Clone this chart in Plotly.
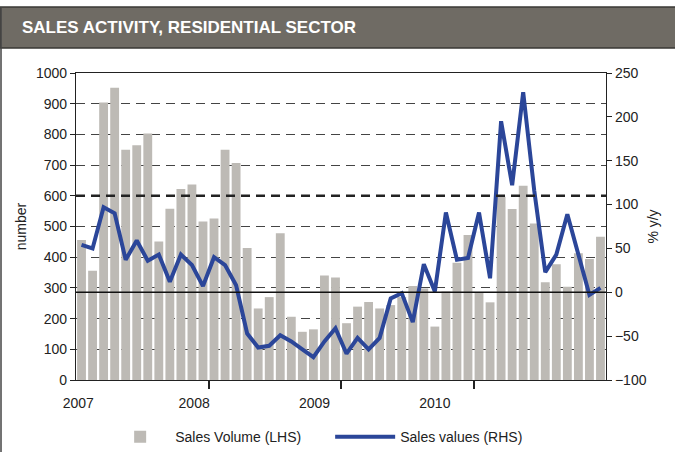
import plotly.graph_objects as go

# ---- data ----
months = list(range(48))  # Jan 2007 .. Dec 2010
sales_volume = [456, 356, 904, 952, 750, 765, 803, 451, 558, 622, 637, 516,
                526, 750, 707, 430, 233, 270, 478, 206, 157, 165, 340, 334,
                185, 239, 254, 233, 244, 270, 306, 298, 174, 288, 382, 472,
                287, 253, 597, 557, 633, 510, 318, 377, 304, 413, 394, 467]
sales_values = [54, 50, 97, 90, 37, 59, 36, 43, 12, 43, 31, 7,
                40, 31, 8, -47, -63, -61, -49, -56, -65, -74, -56, -41,
                -70, -52, -65, -52, -7, -1, -34, 32, 1, 91, 37, 39,
                91, 16, 195, 122, 228, 116, 23, 43, 89, 43, -3, 5]
year_labels = ["2007", "2008", "2009", "2010"]
year_label_pos = [-0.3, 10.2, 21.1, 32.0]
year_bounds = [11.5, 23.5, 35.5]
left_ticks = [0, 100, 200, 300, 400, 500, 600, 700, 800, 900, 1000]
right_ticks = [-100, -50, 0, 50, 100, 150, 200, 250]

FONT = "Liberation Sans, Arial, sans-serif"
TXT = "#222222"

fig = go.Figure()
fig.add_trace(go.Bar(x=months, y=sales_volume, name="Sales Volume (LHS)",
                     marker=dict(color="#bdbab5", line=dict(width=0)),
                     yaxis="y"))
fig.add_trace(go.Scatter(x=months, y=sales_values, name="Sales values (RHS)",
                         mode="lines", line=dict(color="#2b4699", width=4),
                         yaxis="y2"))

fig.update_layout(
    width=675, height=452,
    margin=dict(l=76, r=69, t=73, b=72, autoexpand=False),
    paper_bgcolor="white", plot_bgcolor="white",
    font=dict(family=FONT, size=14, color=TXT),
    bargap=0.2,
    showlegend=True,
    legend=dict(orientation="h", x=0.055, xanchor="left", y=-0.186, yanchor="middle",
                font=dict(size=14, color=TXT), itemwidth=60,
                entrywidth=150, entrywidthmode="pixels", traceorder="normal"),
    xaxis=dict(range=[-0.5, 47.5], tickmode="array", tickvals=year_label_pos,
               ticktext=year_labels, ticks="", showgrid=False, zeroline=False,
               showline=True, linecolor="#222", linewidth=1.3, mirror=True,
               tickfont=dict(size=14), ticklabelstandoff=10,
               minor=dict(tickmode="array", tickvals=year_bounds, ticks="outside",
                          ticklen=8, tickcolor="#222", tickwidth=1.5, showgrid=False)),
    yaxis=dict(range=[0, 1000], tickmode="array", tickvals=left_ticks,
               ticks="outside", ticklen=5, tickcolor="#222",
               showline=True, linecolor="#222", linewidth=1.3,
               showgrid=True, gridcolor="#444", gridwidth=1.2, griddash="9px,6px",
               zeroline=False, layer="above traces",
               title=dict(text="number", standoff=5, font=dict(size=14)),
               tickfont=dict(size=14)),
    yaxis2=dict(range=[-100, 250], overlaying="y", side="right",
                tickmode="array", tickvals=right_ticks, ticks="outside", ticklen=5,
                tickcolor="#222", showline=True, linecolor="#222", linewidth=1.3,
                showgrid=False, zeroline=False,
                title=dict(text="% y/y", standoff=2, font=dict(size=14)),
                tickfont=dict(size=14)),
)

# bold 600 gridline and the right-axis zero line
fig.add_shape(type="line", xref="paper", x0=0, x1=1, yref="y", y0=600, y1=600,
              line=dict(color="#222", width=2.6, dash="9px,6px"), layer="above")
fig.add_shape(type="line", xref="paper", x0=0, x1=1, yref="y2", y0=0, y1=0,
              line=dict(color="#111", width=1.4), layer="above")

# title banner
fig.add_shape(type="rect", xref="paper", yref="paper",
              x0=-0.1434, x1=1.14, y0=1.0814, y1=1.215,
              fillcolor="#6f6b64", line=dict(color="#3a3835", width=1.5), layer="above")
# left border of panel
fig.add_shape(type="line", xref="paper", yref="paper",
              x0=-0.1415, x1=-0.1415, y0=1.215, y1=-0.25,
              line=dict(color="#444", width=1.5))
fig.add_annotation(text="<b>SALES ACTIVITY, RESIDENTIAL SECTOR</b>",
                   xref="paper", yref="paper", x=-0.106, y=1.148,
                   xanchor="left", yanchor="middle", showarrow=False,
                   font=dict(family="Liberation Sans, Arial", size=17, color="white"))

fig.write_html("out.html", config={"displayModeBar": False},
               post_script="document.body.style.margin='0';document.body.style.padding='0';")
